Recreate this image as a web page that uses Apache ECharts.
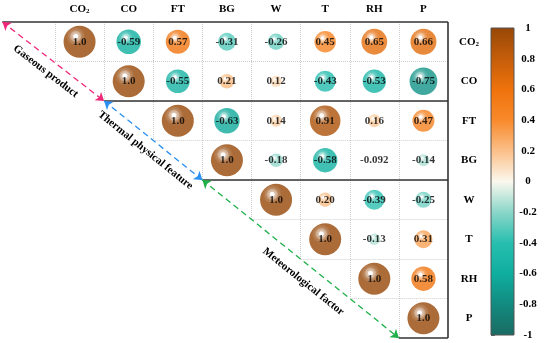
<!DOCTYPE html>
<html><head><meta charset="utf-8">
<script src="https://cdn.jsdelivr.net/npm/echarts@6/dist/echarts.min.js"></script>
<style>html,body{margin:0;padding:0;background:#fff}#c{width:550px;height:343px}</style>
</head><body><div id="c"></div><script>
// ---- data ----
const variables = ['CO2', 'CO', 'FT', 'BG', 'W', 'T', 'RH', 'P'];
// upper-triangle rows (each starts at the diagonal)
const rowCO2 = [1.0, -0.59, 0.57, -0.31, -0.26, 0.45, 0.65, 0.66];
const rowCO  = [1.0, -0.55, 0.21, 0.12, -0.43, -0.53, -0.75];
const rowFT  = [1.0, -0.63, 0.14, 0.91, 0.16, 0.47];
const rowBG  = [1.0, -0.18, -0.58, -0.092, -0.14];
const rowW   = [1.0, 0.20, -0.39, -0.25];
const rowT   = [1.0, -0.13, 0.31];
const rowRH  = [1.0, 0.58];
const rowP   = [1.0];
const groupNames = ['Gaseous product', 'Thermal physical feature', 'Meteorological factor'];
const groupEdges = [0, 2, 4, 8];
const groupColors = ['#f0287a', '#2a8ff0', '#1fb04a'];
const colorValues = [-1, -0.8, -0.6, -0.4, -0.2, 0, 0.2, 0.4, 0.6, 0.8, 1];
const colorHex = ['#1a6b62', '#128a7f', '#0fae9f', '#27beaf', '#8ad6c9', '#fbf8ee', '#fbbf88', '#f8892a', '#ef720c', '#c45d0a', '#964707'];
const scaleMin = -1, scaleMax = 1, scaleStep = 0.2;

// ---- helpers ----
function hexToRgb(h) { h = h.replace('#', ''); return [0, 2, 4].map(i => parseInt(h.substr(i, 2), 16)); }
function rgbStr(c) { return 'rgb(' + c.map(v => Math.round(v)).join(',') + ')'; }
function colorAt(v) {
  for (let k = 0; k < colorValues.length - 1; k++) {
    if (v <= colorValues[k + 1]) {
      const t = (v - colorValues[k]) / (colorValues[k + 1] - colorValues[k]);
      const a = hexToRgb(colorHex[k]), b = hexToRgb(colorHex[k + 1]);
      return a.map((x, i) => x + (b[i] - x) * t);
    }
  }
  return hexToRgb(colorHex[colorHex.length - 1]);
}
function mixWhite(c, t) { return c.map(x => x + (255 - x) * t); }
function ballColor(v) {
  const c = colorAt(v);
  return {
    type: 'radial', x: 0.38, y: 0.33, r: 0.75,
    colorStops: [
      { offset: 0, color: '#ffffff' },
      { offset: 0.08, color: '#ffffff' },
      { offset: 0.12, color: rgbStr(mixWhite(c, 0.6)) },
      { offset: 0.2, color: rgbStr(mixWhite(c, 0.45)) },
      { offset: 0.25, color: rgbStr(mixWhite(c, 0.2)) },
      { offset: 0.33, color: rgbStr(mixWhite(c, 0.1)) },
      { offset: 0.4, color: rgbStr(c) },
      { offset: 1, color: rgbStr(c) }
    ]
  };
}

const rows = [rowCO2, rowCO, rowFT, rowBG, rowW, rowT, rowRH, rowP];
const points = [];
rows.forEach((row, i) => row.forEach((v, k) => {
  points.push({ value: [i + k, i, v], itemStyle: { color: ballColor(v) } });
}));

const n = variables.length;
// dotted grid lines (upper triangle)
const gridSegs = [];
for (let j = 0; j < n; j++) gridSegs.push({ coords: [[j, 0], [j, j + 1]] });
for (let i = 0; i < n - 1; i++) gridSegs.push({ coords: [[i, i + 1], [n, i + 1]] });
// solid block borders
const ext = 1.07;
const borderSegs = [];
for (let g = 0; g < groupEdges.length; g++) {
  const e = groupEdges[g];
  borderSegs.push({ coords: [[e === 0 ? -ext : e - 1, e], [n, e]] });
}
borderSegs.push({ coords: [[n, 0], [n, n]] });
// group arrows
const arrowSegs = groupNames.map((name, g) => ({
  name: name,
  coords: [[groupEdges[g] === 0 ? -ext : groupEdges[g] - 1, groupEdges[g]], [groupEdges[g + 1] - 1, groupEdges[g + 1]]],
  lineStyle: { color: groupColors[g] },
  label: g === groupNames.length - 1 ? { offset: [12, 5] } : {}
}));

const serif = 'Liberation Serif, Times New Roman, serif';
const rich = { sub: { fontSize: 7, fontWeight: 'bold', fontFamily: serif, color: '#000', verticalAlign: 'bottom', padding: [5, 0, 0, 0] } };
const nameFmt = v => v === 'CO2' ? 'CO{sub|2}' : v;

const chart = echarts.init(document.getElementById('c'), null, { renderer: 'canvas' });
chart.setOption({
  animation: false,
  backgroundColor: '#fff',
  grid: [
    { left: 55, top: 22, width: 393, height: 316 },
    { left: 491, top: 28, width: 23, height: 307 }
  ],
  xAxis: [
    { type: 'category', gridIndex: 0, data: variables, position: 'top',
      axisLine: { show: false }, axisTick: { show: false }, splitLine: { show: false },
      axisLabel: { interval: 0, margin: 7, formatter: nameFmt, rich: rich, fontFamily: serif, fontWeight: 'bold', fontSize: 11, color: '#000' } },
    { type: 'value', gridIndex: 0, min: 0, max: n, show: false },
    { type: 'value', gridIndex: 1, min: 0, max: 1, show: false }
  ],
  yAxis: [
    { type: 'category', gridIndex: 0, data: variables, inverse: true, position: 'right',
      axisLine: { show: false }, axisTick: { show: false }, splitLine: { show: false },
      axisLabel: { interval: 0, margin: 21, align: 'center', formatter: nameFmt, rich: rich, fontFamily: serif, fontWeight: 'bold', fontSize: 11, color: '#000' } },
    { type: 'value', gridIndex: 0, min: 0, max: n, inverse: true, show: false },
    { type: 'value', gridIndex: 1, min: scaleMin, max: scaleMax, interval: scaleStep, position: 'right',
      axisLine: { show: false }, splitLine: { show: false },
      axisTick: { show: true, length: 4, lineStyle: { color: '#666' } },
      axisLabel: { margin: 14, align: 'center', fontFamily: serif, fontWeight: 'bold', fontSize: 11, color: '#000' } }
  ],
  series: [
    { type: 'lines', coordinateSystem: 'cartesian2d', xAxisIndex: 1, yAxisIndex: 1, clip: false, silent: true, z: 1,
      symbol: 'none', lineStyle: { color: '#cfcfcf', type: 'dotted', width: 1, opacity: 1 }, data: gridSegs },
    { type: 'lines', coordinateSystem: 'cartesian2d', xAxisIndex: 1, yAxisIndex: 1, clip: false, silent: true, z: 2,
      symbol: 'none', lineStyle: { color: '#333', type: 'solid', width: 1.6, opacity: 1 }, data: borderSegs },
    { type: 'lines', coordinateSystem: 'cartesian2d', xAxisIndex: 1, yAxisIndex: 1, clip: false, silent: true, z: 3,
      symbol: ['arrow', 'arrow'], symbolSize: 8,
      lineStyle: { type: [6, 4], width: 1.3, opacity: 1 },
      label: { show: true, position: 'insideMiddleBottom', distance: 7, formatter: p => p.name,
        fontFamily: serif, fontWeight: 'bold', fontSize: 11, color: '#000' },
      data: arrowSegs },
    { type: 'scatter', xAxisIndex: 0, yAxisIndex: 0, z: 5,
      symbolSize: d => Math.abs(d[2]) < 0.1 ? 0 : 32 * Math.sqrt(Math.abs(d[2])),
      label: { show: true, position: 'inside', formatter: p => p.value[2].toPrecision(2),
        fontFamily: serif, fontWeight: 'bold', fontSize: 11, color: '#000' },
      data: points },
    { type: 'custom', xAxisIndex: 2, yAxisIndex: 2, z: 2, silent: true,
      data: [[0, scaleMin, 1, scaleMax]],
      renderItem: (params, api) => {
        const p0 = api.coord([api.value(0), api.value(3)]);
        const p1 = api.coord([api.value(2), api.value(1)]);
        const stops = colorValues.map((v, k) => ({ offset: (scaleMax - v) / (scaleMax - scaleMin), color: colorHex[k] }));
        return { type: 'rect', shape: { x: p0[0], y: p0[1], width: p1[0] - p0[0], height: p1[1] - p0[1] },
          style: { fill: new echarts.graphic.LinearGradient(0, 0, 0, 1, stops), stroke: '#555', lineWidth: 1 } };
      } }
  ]
});
</script></body></html>
